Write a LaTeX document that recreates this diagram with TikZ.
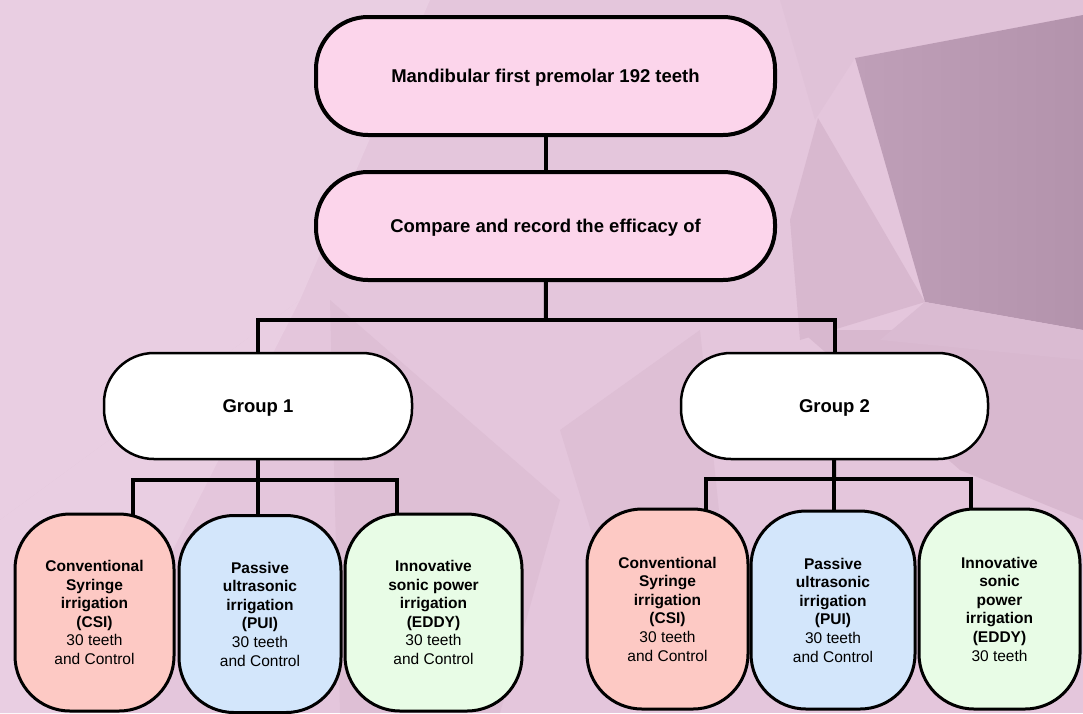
\documentclass[tikz,border=0pt]{standalone}
\usepackage{fontspec}
\setmainfont{Liberation Sans}
\pgfdeclarelayer{bg}
\pgfdeclarelayer{background}
\pgfsetlayers{bg,background,main}
\definecolor{bgbase}{HTML}{E4C6DC}
\definecolor{bglight}{HTML}{E9CEE2}
\definecolor{bgmid}{HTML}{D8B8CF}
\definecolor{bgdark}{HTML}{BF9FB8}
\definecolor{bgdarker}{HTML}{B393AC}
\definecolor{toppink}{HTML}{FCD5EB}
\definecolor{csifill}{HTML}{FDC9C4}
\definecolor{puifill}{HTML}{D3E6FB}
\definecolor{eddyfill}{HTML}{E8FCE6}
\tikzset{
  conn/.style={line width=4pt},
  topbox/.style={draw, line width=4pt, fill=toppink, rounded corners=52pt,
    minimum width=459pt, inner sep=0pt, text height=13.3pt, text depth=0pt,
    font=\fontsize{18.5}{22}\selectfont\bfseries},
  grpbox/.style={draw, line width=2.5pt, fill=white, rounded corners=50pt,
    minimum height=106pt, inner sep=0pt, text height=13.3pt, text depth=0pt,
    font=\fontsize{18.5}{22}\selectfont\bfseries},
  leaf/.style={draw, line width=3pt, rounded corners=55pt, inner sep=0pt, align=center,
    font=\fontsize{15.5}{18.6}\selectfont}
}
\begin{document}
\begin{tikzpicture}[x=1pt,y=-1pt]
\useasboundingbox (0,0) rectangle (1083,713);
\begin{pgfonlayer}{bg}
  \fill[bgbase] (0,0) rectangle (1083,713);
  \fill[bglight] (0,0) -- (430,0) -- (300,300) -- (0,520) -- cycle;
  \fill[bglight] (0,520) -- (300,300) -- (90,713) -- (0,713) -- cycle;
  \fill[bgmid!50!bgbase] (330,300) -- (560,500) -- (500,713) -- (340,713) -- cycle;
  \fill[bgmid!50!bgbase] (560,430) -- (700,330) -- (720,520) -- (600,560) -- cycle;
  \fill[bgmid] (800,330) -- (1083,330) -- (1083,520) -- (960,470) -- cycle;
  \fill[bgbase!70!bgmid] (780,0) -- (1083,0) -- (1083,15) -- (855,58) -- (815,120) -- cycle;
  \fill[bgmid] (818,118) -- (925,302) -- (800,340) -- (790,220) -- cycle;
  \shade[left color=bgdark, right color=bgdarker] (855,58) -- (1083,15) -- (1083,330) -- (925,302) -- cycle;
  \fill[bgmid!80!bgbase] (925,302) -- (1083,330) -- (1083,360) -- (880,340) -- cycle;
\end{pgfonlayer}

% top boxes
\node[topbox, minimum height=118pt] (top) at (545.5,76) {Mandibular first premolar 192 teeth};
\node[topbox, minimum height=108pt] (cmp) at (545.5,226) {Compare and record the efficacy of};

% groups
\node[grpbox, minimum width=308pt] (g1) at (258,406) {Group 1};
\node[grpbox, minimum width=307pt] (g2) at (834.5,406) {Group 2};

% leaves group 1
\node[leaf, fill=csifill, minimum width=159pt, minimum height=197pt] (c1) at (94.5,612.5)
  {\textbf{Conventional}\\\textbf{Syringe}\\\textbf{irrigation}\\\textbf{(CSI)}\\30 teeth\\and Control};
\node[leaf, fill=puifill, minimum width=162pt, minimum height=197pt] (p1) at (260,614)
  {\textbf{Passive}\\\textbf{ultrasonic}\\\textbf{irrigation}\\\textbf{(PUI)}\\30 teeth\\and Control};
\node[leaf, fill=eddyfill, minimum width=177pt, minimum height=197pt] (e1) at (433.5,612.5)
  {\textbf{Innovative}\\\textbf{sonic power}\\\textbf{irrigation}\\\textbf{(EDDY)}\\30 teeth\\and Control};

% leaves group 2
\node[leaf, fill=csifill, minimum width=161pt, minimum height=200pt] (c2) at (667.5,609)
  {\textbf{Conventional}\\\textbf{Syringe}\\\textbf{irrigation}\\\textbf{(CSI)}\\30 teeth\\and Control};
\node[leaf, fill=puifill, minimum width=164pt, minimum height=198pt] (p2) at (833,610)
  {\textbf{Passive}\\\textbf{ultrasonic}\\\textbf{irrigation}\\\textbf{(PUI)}\\30 teeth\\and Control};
\node[leaf, fill=eddyfill, minimum width=161pt, minimum height=200pt] (e2) at (999.5,609)
  {\textbf{Innovative}\\\textbf{sonic}\\\textbf{power}\\\textbf{irrigation}\\\textbf{(EDDY)}\\30 teeth};

% junction coordinates
\coordinate (j0) at (546,320);
\coordinate (j1) at (258,480);
\coordinate (j1a) at (133,480);
\coordinate (j1c) at (397,480);
\coordinate (j2) at (834,479);
\coordinate (j2a) at (706,479);
\coordinate (j2c) at (971,479);

\begin{pgfonlayer}{background}
  \draw[conn] (top.center) -- (cmp.center);
  \draw[conn] (cmp.center) -- (j0);
  \draw[conn, line cap=rect] (g1.center |- j0) -- (g2.center |- j0);
  \draw[conn] (g1.center |- j0) -- (g1.center);
  \draw[conn] (g2.center |- j0) -- (g2.center);
  \draw[conn] (g1.center) -- (j1);
  \draw[conn, line cap=rect] (j1a) -- (j1c);
  \draw[conn] (j1a) -- (c1.center -| j1a);
  \draw[conn] (j1) -- (p1.center -| j1);
  \draw[conn] (j1c) -- (e1.center -| j1c);
  \draw[conn] (g2.center) -- (j2);
  \draw[conn, line cap=rect] (j2a) -- (j2c);
  \draw[conn] (j2a) -- (c2.center -| j2a);
  \draw[conn] (j2) -- (p2.center -| j2);
  \draw[conn] (j2c) -- (e2.center -| j2c);
\end{pgfonlayer}
\end{tikzpicture}
\end{document}
